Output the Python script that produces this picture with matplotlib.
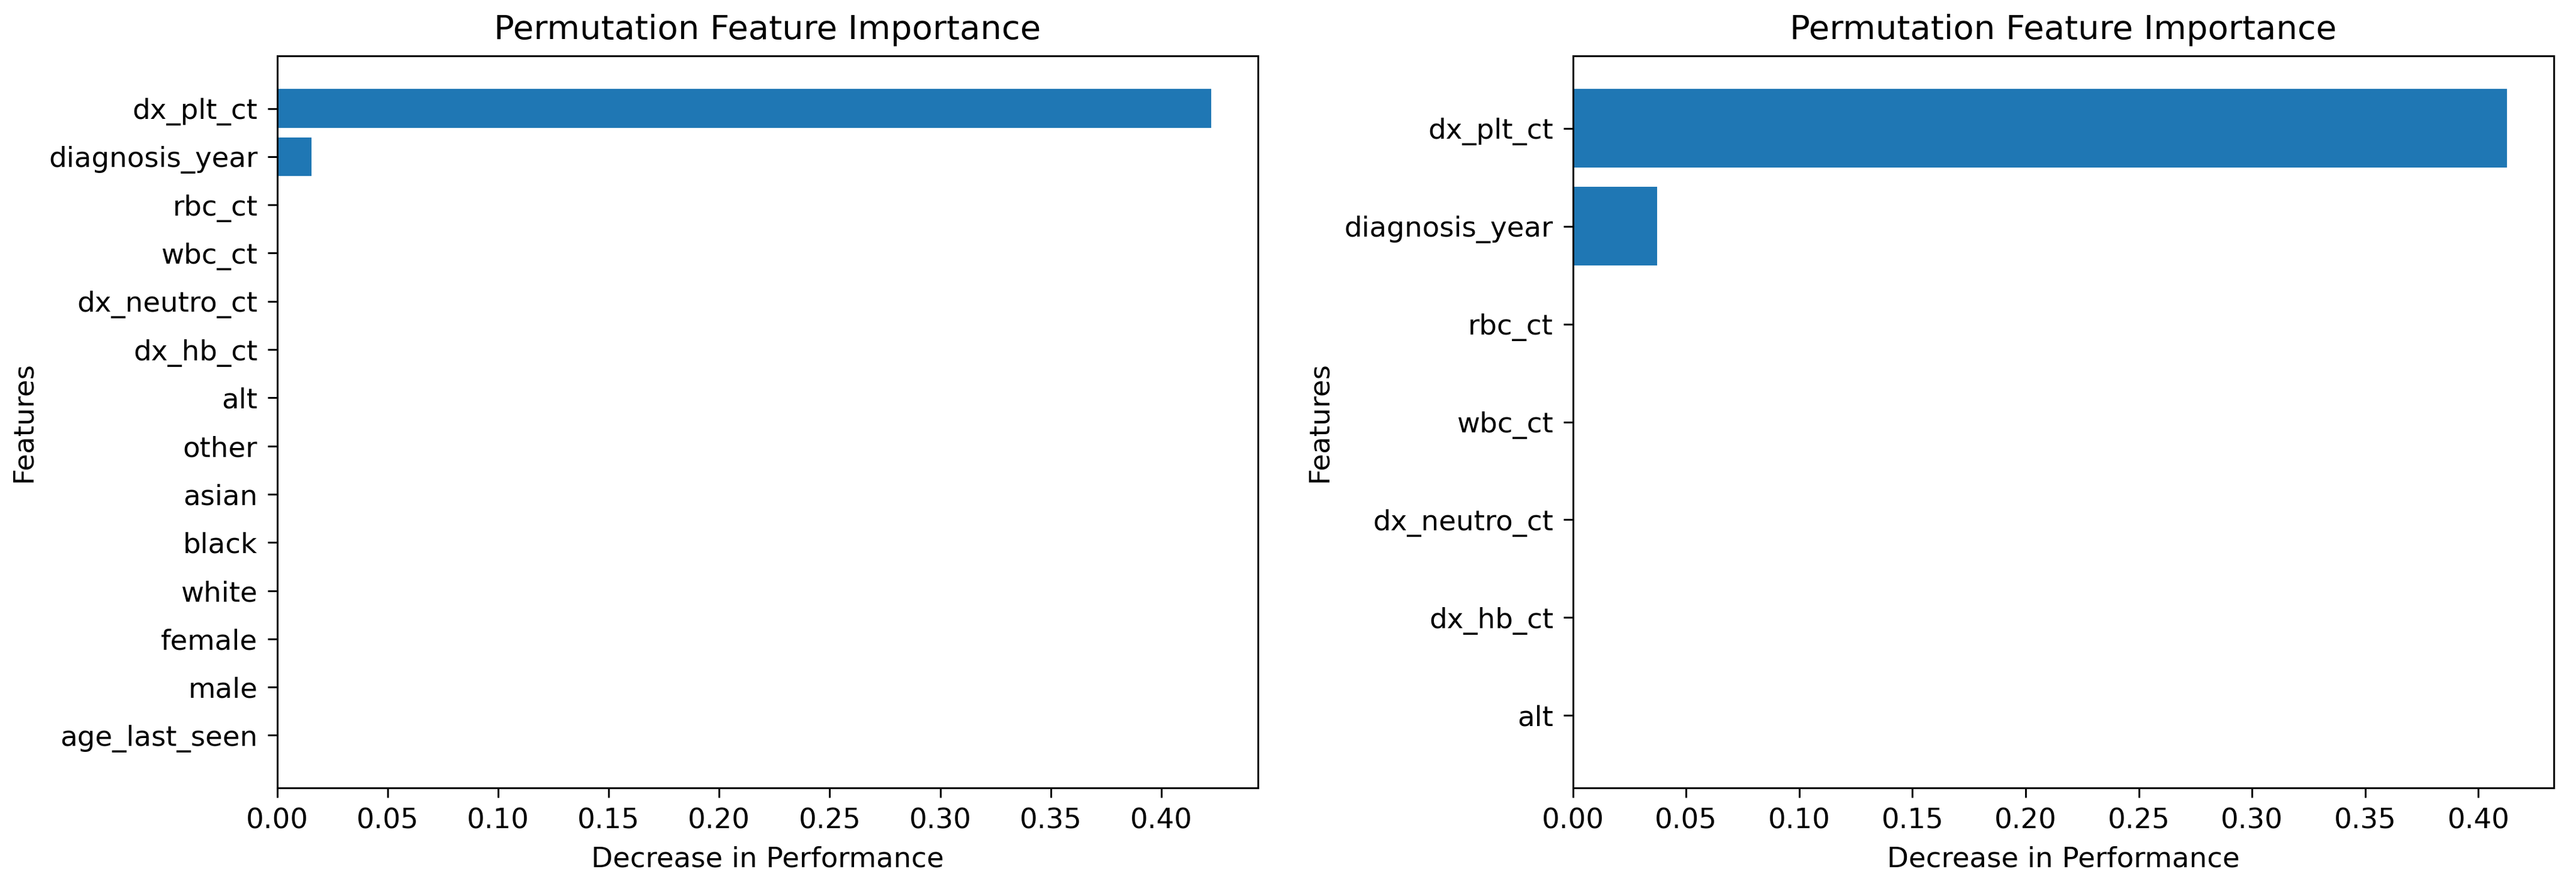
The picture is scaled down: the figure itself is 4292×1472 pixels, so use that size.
import numpy as np
import matplotlib.pyplot as plt

# permutation importance, model with all features (bottom -> top)
feat_all = ['age_last_seen', 'male', 'female', 'white', 'black', 'asian', 'other',
            'alt', 'dx_hb_ct', 'dx_neutro_ct', 'wbc_ct', 'rbc_ct',
            'diagnosis_year', 'dx_plt_ct']
imp_all = [0, 0, 0, 0, 0, 0, 0, 0, 0, 0, 0, 0, 0.0156, 0.4227]

# reduced model
feat_sub = ['alt', 'dx_hb_ct', 'dx_neutro_ct', 'wbc_ct', 'rbc_ct',
            'diagnosis_year', 'dx_plt_ct']
imp_sub = [0, 0, 0, 0, 0, 0.0371, 0.4127]

plt.rcParams['axes.linewidth'] = 0.65
plt.rcParams['xtick.major.width'] = 0.65
plt.rcParams['ytick.major.width'] = 0.65

dpi = 336
fig, axes = plt.subplots(1, 2, figsize=(4292/dpi, 1472/dpi), dpi=dpi)
fig.subplots_adjust(left=0.1076, right=0.9914, bottom=0.1087, top=0.9368, wspace=0.321)

for ax, feats, imps in zip(axes, [feat_all, feat_sub], [imp_all, imp_sub]):
    ax.barh(feats, imps)
    ax.set_title('Permutation Feature Importance')
    ax.set_xlabel('Decrease in Performance')
    ax.set_ylabel('Features')

fig.savefig('out.png', dpi=dpi)
